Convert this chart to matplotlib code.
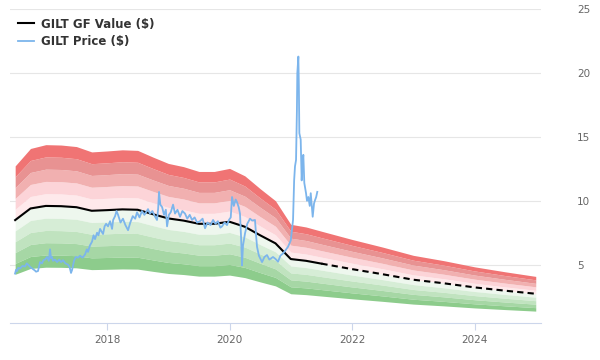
import matplotlib
matplotlib.use("Agg")
import matplotlib.pyplot as plt
import numpy as np

# GF value (fair value) line, decimal years
fv_years = [2016.50, 2016.75, 2017.00, 2017.25, 2017.50, 2017.75, 2018.00, 2018.25,
            2018.50, 2018.75, 2019.00, 2019.25, 2019.50, 2019.75, 2020.00, 2020.25,
            2020.50, 2020.75, 2021.00, 2021.25, 2021.50, 2022.00, 2022.50, 2023.00,
            2023.50, 2024.00, 2024.50, 2025.00]
fv_values = [8.49, 9.4, 9.6, 9.58, 9.5, 9.22, 9.27, 9.33,
             9.3, 8.95, 8.62, 8.45, 8.2, 8.2, 8.36, 7.97,
             7.3, 6.67, 5.44, 5.3, 5.08, 4.65, 4.25, 3.82,
             3.54, 3.22, 2.96, 2.72]

# band edges as share of GF value
upper_mult = [1.1, 1.2, 1.3, 1.4, 1.5]
lower_mult = [0.9, 0.8, 0.7, 0.6, 0.5]
upper_colors = ["#fee9eb", "#fcd4d8", "#f1b0b0", "#e89292", "#f07474"]
lower_colors = ["#eef7ee", "#d6edd6", "#c0e3bf", "#a6d7a5", "#8dcc8c"]

price_years = [2016.498, 2016.515, 2016.531, 2016.55, 2016.58, 2016.62, 2016.661, 2016.69,
               2016.71, 2016.75, 2016.792, 2016.82, 2016.841, 2016.873, 2016.906, 2016.939,
               2016.96, 2016.988, 2017.02, 2017.05, 2017.069, 2017.085, 2017.102, 2017.118,
               2017.15, 2017.184, 2017.22, 2017.25, 2017.282, 2017.32, 2017.363, 2017.39,
               2017.412, 2017.43, 2017.461, 2017.49, 2017.527, 2017.559, 2017.6, 2017.641,
               2017.67, 2017.69, 2017.72, 2017.755, 2017.78, 2017.804, 2017.837, 2017.86,
               2017.886, 2017.91, 2017.935, 2017.96, 2017.985, 2018.016, 2018.05, 2018.082,
               2018.10, 2018.131, 2018.155, 2018.18, 2018.22, 2018.26, 2018.30, 2018.343,
               2018.38, 2018.42, 2018.46, 2018.49, 2018.53, 2018.57, 2018.61, 2018.669,
               2018.70, 2018.74, 2018.78, 2018.816, 2018.835, 2018.849, 2018.87, 2018.90,
               2018.93, 2018.96, 2018.98, 2019.01, 2019.04, 2019.078, 2019.11, 2019.15,
               2019.192, 2019.23, 2019.273, 2019.31, 2019.35, 2019.388, 2019.43, 2019.47,
               2019.518, 2019.56, 2019.60, 2019.64, 2019.69, 2019.731, 2019.77, 2019.81,
               2019.85, 2019.878, 2019.92, 2019.959, 2019.99, 2020.02, 2020.041, 2020.07,
               2020.10, 2020.122, 2020.15, 2020.171, 2020.19, 2020.204, 2020.22, 2020.253,
               2020.29, 2020.335, 2020.37, 2020.416, 2020.435, 2020.449, 2020.48, 2020.531,
               2020.57, 2020.612, 2020.65, 2020.71, 2020.75, 2020.792, 2020.83, 2020.873,
               2020.91, 2020.955, 2021.0, 2021.037, 2021.055, 2021.069, 2021.086, 2021.10,
               2021.107, 2021.124, 2021.132, 2021.140, 2021.162, 2021.178, 2021.19, 2021.205,
               2021.221, 2021.235, 2021.249, 2021.265, 2021.287, 2021.31, 2021.326, 2021.345,
               2021.358, 2021.38, 2021.396, 2021.415, 2021.433]
price_values = [4.3, 4.6, 4.5, 4.75, 4.7, 4.9, 4.85, 5.1,
                5.0, 4.8, 4.65, 4.55, 4.45, 4.5, 5.2, 5.1,
                5.35, 5.4, 5.6, 5.3, 6.2, 5.5, 5.6, 5.3,
                5.4, 5.2, 5.4, 5.2, 5.35, 5.1, 5.0, 4.8,
                4.35, 4.6, 5.3, 5.6, 5.55, 5.7, 5.55, 5.8,
                6.2, 6.0, 6.5, 6.8, 7.3, 7.0, 7.5, 7.3,
                7.8, 7.6, 7.4, 8.0, 8.2, 8.0, 8.4, 7.8,
                8.5, 8.8, 9.2, 8.9, 8.3, 8.6, 8.1, 7.7,
                8.3, 8.8, 8.6, 9.1, 8.7, 9.2, 8.9, 9.35,
                9.0, 9.2, 8.8, 8.5, 9.4, 10.7, 9.7, 9.5,
                8.9, 9.3, 8.0, 8.9, 9.1, 9.7, 9.0, 9.3,
                8.75, 9.2, 9.0, 8.6, 8.9, 8.5, 8.7, 8.3,
                8.4, 8.6, 7.85, 8.3, 8.1, 8.5, 8.2, 8.4,
                7.9, 8.0, 8.3, 8.1, 8.5, 8.7, 10.3, 9.6,
                10.1, 9.9, 9.5, 9.0, 7.0, 4.95, 6.5, 7.45,
                8.2, 8.6, 8.45, 8.5, 7.2, 6.4, 5.7, 5.2,
                5.6, 5.75, 5.4, 5.6, 5.45, 5.23, 5.7, 5.88,
                6.1, 6.4, 6.9, 8.5, 11.6, 12.7, 13.2, 17.0,
                20.0, 21.3, 19.0, 15.3, 14.8, 11.6, 12.8, 13.6,
                11.4, 11.0, 10.6, 10.0, 10.3, 9.6, 10.6, 9.5,
                8.75, 9.8, 10.05, 10.3, 10.7]

year_ticks = [2018, 2020, 2022, 2024]
value_ticks = [5, 10, 15, 20, 25]

fv = np.array(fv_values)
fy = np.array(fv_years)

fig = plt.figure(figsize=(6, 3.6), dpi=100)
ax = fig.add_axes([0.0167, 0.1028, 0.885, 0.8713])

# bands
prev = fv
for m, c in zip(upper_mult, upper_colors):
    ax.fill_between(fy, prev, fv * m, color=c, lw=0, zorder=1)
    prev = fv * m
prev = fv
for m, c in zip(lower_mult, lower_colors):
    ax.fill_between(fy, fv * m, prev, color=c, lw=0, zorder=1)
    prev = fv * m

hist = fy <= 2021.5
fut = fy >= 2021.5
ax.plot(fy[hist], fv[hist], color="black", lw=1.5, zorder=3, label="GILT GF Value ($)")
ax.plot(fy[fut], fv[fut], color="black", lw=1.5, ls=(0, (3, 2)), zorder=3)
ax.plot(price_years, price_values, color="#7cb5ec", lw=1.3, zorder=4, label="GILT Price ($)")

ax.set_xlim(2016.416, 2025.086)
ax.set_ylim(0.43, 25)
ax.set_xticks(year_ticks)
ax.set_xticklabels([str(y) for y in year_ticks])
ax.set_yticks(value_ticks)
ax.yaxis.tick_right()
ax.grid(axis="y", color="#e6e6e6", lw=0.8, zorder=0)
ax.set_axisbelow(True)
for s in ["top", "left", "right"]:
    ax.spines[s].set_visible(False)
ax.spines["bottom"].set_color("#ccd6eb")
ax.tick_params(axis="x", colors="#ccd6eb", length=5, labelcolor="#666666", labelsize=7.5)
ax.tick_params(axis="y", length=0, pad=26, labelcolor="#666666", labelsize=7.5)

leg = ax.legend(loc="upper left", bbox_to_anchor=(0.0, 1.0), frameon=False,
                handlelength=1.3, handletextpad=0.6, labelspacing=0.35,
                prop={"weight": "bold", "size": 8.5}, borderaxespad=0.3)
for t in leg.get_texts():
    t.set_color("#333333")

fig.savefig("out.png", dpi=100)
